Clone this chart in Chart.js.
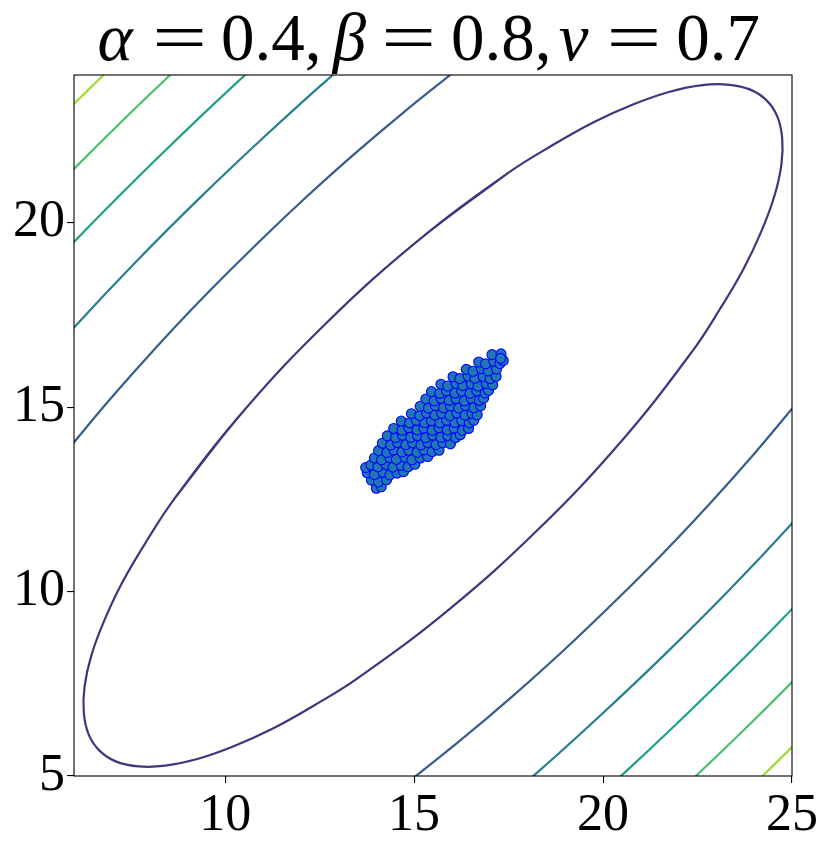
<!DOCTYPE html>
<html>
<head>
<meta charset="utf-8">
<script src="https://cdn.jsdelivr.net/npm/chart.js@4.4.0/dist/chart.umd.min.js"></script>
<style>
  html, body { margin: 0; padding: 0; background: #fff; }
</style>
</head>
<body>
<canvas id="miGrafico" width="830" height="851"></canvas>
<script>
// DATOS

const ticksX = [10, 15, 20, 25];
const ticksY = [5, 10, 15, 20];

// curva de nivel interior (elipse); el tramo inicial se repite al final para cerrarla sin esquina
const elipse = [
  [17.48, 21.34], [15.08, 19.49], [12.70, 17.30], [10.51, 14.92], [8.66, 12.52], [7.91, 11.35],
  [7.28, 10.25], [6.80, 9.21], [6.46, 8.27], [6.28, 7.43], [6.26, 6.71], [6.39, 6.12],
  [6.68, 5.68], [7.12, 5.39], [7.71, 5.26], [8.42, 5.28], [9.26, 5.46], [10.21, 5.80],
  [11.25, 6.28], [12.35, 6.91], [13.52, 7.66], [15.92, 9.51], [18.30, 11.70], [20.49, 14.08],
  [22.34, 16.48], [23.09, 17.65], [23.72, 18.75], [24.20, 19.79], [24.54, 20.74], [24.72, 21.58],
  [24.74, 22.29], [24.61, 22.88], [24.32, 23.32], [23.88, 23.61], [23.29, 23.74], [22.58, 23.72],
  [21.74, 23.54], [20.79, 23.20], [19.75, 22.72], [18.65, 22.09], [17.48, 21.34], [15.08, 19.49],
  [12.70, 17.30], [10.51, 14.92], [8.66, 12.52]
];

// curvas de nivel exteriores (tramo superior izquierdo y tramo inferior derecho)
const azulSup = [[16.15, 24.16], [14.77, 23.03], [13.40, 21.84], [12.04, 20.59], [10.71, 19.29], [9.41, 17.96], [8.16, 16.60], [6.97, 15.23], [5.84, 13.85]];
const azulInf = [[14.85, 4.84], [16.23, 5.97], [17.60, 7.16], [18.96, 8.41], [20.29, 9.71], [21.59, 11.04], [22.84, 12.40], [24.03, 13.77], [25.16, 15.15]];
const tealAzulSup = [[14.56, 25.48], [12.79, 23.95], [11.05, 22.34], [9.33, 20.67], [7.66, 18.96], [6.05, 17.21], [4.52, 15.44]];
const tealAzulInf = [[16.44, 3.52], [18.21, 5.05], [19.95, 6.66], [21.67, 8.33], [23.34, 10.04], [24.95, 11.79], [26.48, 13.56]];
const tealSup = [[12.31, 25.64], [10.25, 23.74], [8.23, 21.77], [6.26, 19.75], [4.37, 17.69]];
const tealInf = [[18.69, 3.36], [20.75, 5.26], [22.77, 7.23], [24.74, 9.25], [26.63, 11.31]];
const verdeSup = [[11.89, 27.11], [9.56, 24.97], [7.26, 22.74], [5.04, 20.45], [2.89, 18.11]];
const verdeInf = [[19.11, 1.89], [21.44, 4.03], [23.74, 6.26], [25.96, 8.55], [28.11, 10.89]];
const limaSup = [[11.51, 28.45], [8.92, 26.07], [6.39, 23.61], [3.93, 21.08], [1.55, 18.50]];
const limaInf = [[19.49, 0.55], [22.08, 2.93], [24.61, 5.39], [27.07, 7.92], [29.45, 10.50]];

// muestra (nube de puntos)
const muestra = [
  [14.00, 12.80], [14.13, 12.84],
  [13.87, 13.02], [14.06, 12.97], [14.27, 13.03],
  [13.76, 13.22], [13.95, 13.17], [14.18, 13.23], [14.36, 13.16], [14.55, 13.21], [14.72, 13.25],
  [13.72, 13.36], [13.86, 13.43], [14.04, 13.38], [14.26, 13.44], [14.44, 13.37], [14.66, 13.42], [14.84, 13.38], [15.02, 13.45],
  [13.95, 13.62], [14.14, 13.57], [14.36, 13.63], [14.53, 13.58], [14.76, 13.64], [14.94, 13.57], [15.16, 13.62], [15.36, 13.66],
  [14.06, 13.82], [14.28, 13.77], [14.46, 13.84], [14.68, 13.78], [14.86, 13.83], [15.08, 13.77], [15.26, 13.84], [15.48, 13.79], [15.66, 13.83],
  [14.16, 14.02], [14.38, 13.97], [14.56, 14.04], [14.78, 13.98], [14.96, 14.03], [15.18, 13.97], [15.36, 14.04], [15.58, 13.98], [15.76, 14.03], [15.96, 14.00],
  [14.29, 14.22], [14.51, 14.17], [14.69, 14.24], [14.91, 14.18], [15.09, 14.23], [15.31, 14.17], [15.49, 14.24], [15.71, 14.18], [15.89, 14.23], [16.10, 14.17], [16.22, 14.25],
  [14.46, 14.42], [14.68, 14.37], [14.86, 14.44], [15.08, 14.38], [15.26, 14.43], [15.48, 14.37], [15.66, 14.44], [15.88, 14.38], [16.06, 14.43], [16.28, 14.37], [16.44, 14.42],
  [14.66, 14.62], [14.88, 14.57], [15.06, 14.64], [15.28, 14.58], [15.46, 14.63], [15.68, 14.57], [15.86, 14.64], [16.08, 14.58], [16.26, 14.63], [16.46, 14.57], [16.58, 14.64],
  [14.93, 14.82], [15.15, 14.77], [15.33, 14.84], [15.55, 14.78], [15.73, 14.83], [15.95, 14.77], [16.13, 14.84], [16.35, 14.78], [16.53, 14.83], [16.67, 14.79],
  [15.16, 15.02], [15.38, 14.97], [15.56, 15.04], [15.78, 14.98], [15.96, 15.03], [16.18, 14.97], [16.36, 15.04], [16.58, 14.98], [16.76, 15.03],
  [15.31, 15.22], [15.53, 15.17], [15.71, 15.24], [15.93, 15.18], [16.11, 15.23], [16.33, 15.17], [16.51, 15.24], [16.73, 15.18], [16.84, 15.24],
  [15.46, 15.42], [15.68, 15.37], [15.86, 15.44], [16.08, 15.38], [16.26, 15.43], [16.48, 15.37], [16.66, 15.44], [16.88, 15.38], [16.97, 15.45],
  [15.71, 15.62], [15.89, 15.57], [16.11, 15.64], [16.29, 15.58], [16.51, 15.63], [16.69, 15.57], [16.91, 15.64], [17.08, 15.60],
  [16.03, 15.82], [16.21, 15.77], [16.43, 15.84], [16.61, 15.78], [16.83, 15.83], [17.01, 15.77], [17.17, 15.83],
  [16.38, 16.02], [16.56, 15.97], [16.78, 16.04], [16.96, 15.98], [17.18, 16.03],
  [16.71, 16.22], [16.89, 16.17], [17.11, 16.24], [17.27, 16.18], [17.36, 16.26],
  [17.06, 16.42], [17.30, 16.44], [17.29, 16.32]
];

// titulo: trozos (letras griegas en cursiva)
const tituloPartes = ['α', '=', '0.4,', 'β', '=', '0.8,', 'ν', '=', '0.7'];

// ESTILO

const colores = ['#46327e', '#365c8d', '#277f8e', '#1fa187', '#4ac16d', '#a0da39'];
const curvas = [
  [elipse, 0],
  [azulSup, 1], [azulInf, 1],
  [tealAzulSup, 2], [tealAzulInf, 2],
  [tealSup, 3], [tealInf, 3],
  [verdeSup, 4], [verdeInf, 4],
  [limaSup, 5], [limaInf, 5]
];

// huecos (px) entre la tinta de trozos consecutivos del titulo
const tituloHuecos = [22, 20, 13, 19, 21, 11, 22, 21];
const TITULO_CENTRO = 429;
const ESCALA_IGUAL = 1.45;

const aPuntos = arr => arr.map(p => ({ x: p[0], y: p[1] }));

const datasets = [{
  data: aPuntos(muestra),
  pointRadius: 5,
  pointBackgroundColor: '#1f77b4',
  pointBorderColor: '#0000ff',
  pointBorderWidth: 1.1,
  showLine: false
}];

curvas.forEach(([datos, c]) => {
  datasets.push({
    data: aPuntos(datos),
    showLine: true,
    borderColor: colores[c],
    borderWidth: 2.2,
    pointRadius: 0,
    tension: 0.4,
    capBezierPoints: false,
    fill: false
  });
});

const FUENTE = "'Liberation Serif', 'DejaVu Serif', serif";
const TAM_TITULO = 67;

const pluginMarco = {
  id: 'marco',
  afterDraw(chart) {
    const { ctx, chartArea: a } = chart;
    ctx.save();
    ctx.strokeStyle = '#000';
    ctx.lineWidth = 1.1;
    ctx.strokeRect(a.left, a.top, a.right - a.left, a.bottom - a.top);
    ctx.restore();
  }
};

const pluginTitulo = {
  id: 'titulo',
  afterDraw(chart) {
    const ctx = chart.ctx;
    ctx.save();
    ctx.fillStyle = '#000';
    ctx.textBaseline = 'alphabetic';
    ctx.textAlign = 'left';
    const fuente = t => (/[αβν]/.test(t) ? 'italic ' : '') + TAM_TITULO + 'px ' + FUENTE;
    // medir la tinta de cada trozo
    const medidas = tituloPartes.map(t => {
      ctx.font = fuente(t);
      const m = ctx.measureText(t);
      const esc = t === '=' ? ESCALA_IGUAL : 1;
      return { izq: m.actualBoundingBoxLeft * esc, ancho: (m.actualBoundingBoxLeft + m.actualBoundingBoxRight) * esc, esc };
    });
    const total = medidas.reduce((s, m) => s + m.ancho, 0) + tituloHuecos.reduce((s, h) => s + h, 0);
    let x = TITULO_CENTRO - total / 2;
    tituloPartes.forEach((t, i) => {
      const m = medidas[i];
      ctx.font = fuente(t);
      ctx.save();
      ctx.translate(x + m.izq, 60);
      ctx.scale(m.esc, 1);
      ctx.fillText(t, 0, 0);
      ctx.restore();
      x += m.ancho + (tituloHuecos[i] || 0);
    });
    ctx.restore();
  }
};

const ejeComun = {
  type: 'linear',
  border: { display: false },
  grid: { drawOnChartArea: false, drawTicks: true, tickLength: 7, color: '#000', lineWidth: 1.1 },
  ticks: { color: '#000', font: { family: FUENTE, size: 52 }, padding: 2 }
};

const ctx = document.getElementById('miGrafico').getContext('2d');
const miGrafico = new Chart(ctx, {
  type: 'scatter',
  data: { datasets },
  options: {
    responsive: false,
    animation: false,
    events: [],
    layout: { padding: { top: 75, right: 38, left: 0, bottom: 0 } },
    plugins: { legend: { display: false }, tooltip: { enabled: false }, title: { display: false } },
    scales: {
      x: {
        ...ejeComun,
        min: 6, max: 25,
        afterBuildTicks: s => { s.ticks = ticksX.map(v => ({ value: v })); },
        afterFit: s => { s.height = 75; }
      },
      y: {
        ...ejeComun,
        min: 5, max: 24,
        afterBuildTicks: s => { s.ticks = ticksY.map(v => ({ value: v })); },
        afterFit: s => { s.width = 74; }
      }
    }
  },
  plugins: [pluginMarco, pluginTitulo]
});
</script>
</body>
</html>
